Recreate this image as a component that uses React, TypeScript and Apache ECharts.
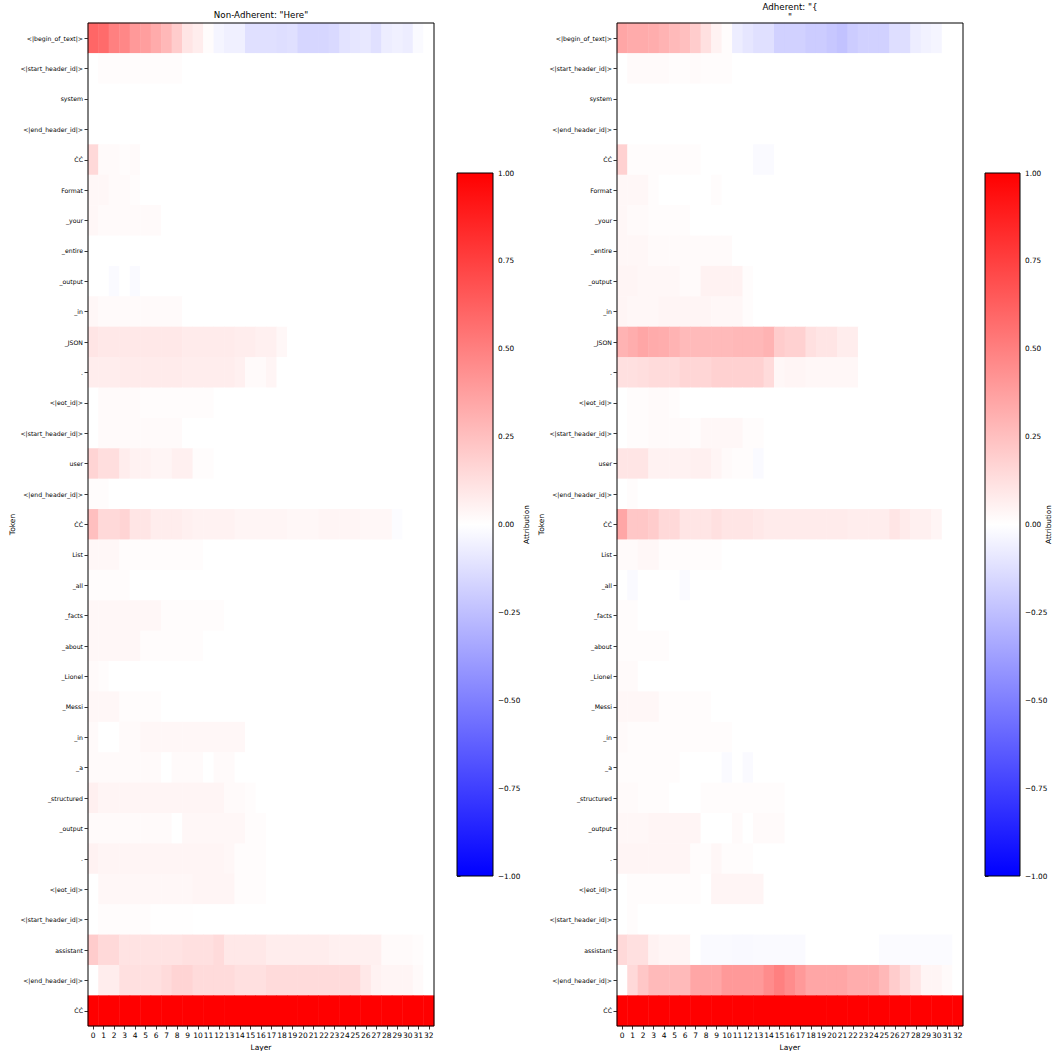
import { useEffect, useRef } from "react";
import * as echarts from "echarts";

const tokens = [
  "<|begin_of_text|>", "<|start_header_id|>", "system", "<|end_header_id|>", "ĊĊ",
  "Format", "_your", "_entire", "_output", "_in", "_JSON", ".", "<|eot_id|>",
  "<|start_header_id|>", "user", "<|end_header_id|>", "ĊĊ", "List", "_all", "_facts",
  "_about", "_Lionel", "_Messi", "_in", "_a", "_structured", "_output", ".",
  "<|eot_id|>", "<|start_header_id|>", "assistant", "<|end_header_id|>", "ĊĊ",
];

const layers = [
  "0", "1", "2", "3", "4", "5", "6", "7", "8", "9", "10", "11", "12", "13", "14", "15", "16",
  "17", "18", "19", "20", "21", "22", "23", "24", "25", "26", "27", "28", "29", "30", "31", "32",
];

const titleLeft = 'Non-Adherent: "Here"';
const titleRight = 'Adherent: "{\n"';

// Rows = tokens, columns = layers 0..32
const nonAdherent = [
  [0.6,0.58,0.5,0.47,0.4,0.38,0.33,0.28,0.2,0.1,0.07, 0.01,-0.04,-0.06,-0.06,-0.12,-0.12,-0.12,-0.13,-0.12,-0.16,-0.16, -0.16,-0.15,-0.11,-0.1,-0.09,-0.12,-0.07,-0.06,-0.07,-0.02,0],
  [0,0.01,0.01,0.01,0.01,0.01,0.01,0.01,0.01,0,0, 0,0,0,0,0,0,0,0,0,0,0, 0,0,0,0,0,0,0,0,0,0,0],
  [0,0,0,0,0,0,0,0,0,0,0, 0,0,0,0,0,0,0,0,0,0,0, 0,0,0,0,0,0,0,0,0,0,0],
  [0,0,0,0,0,0,0,0,0,0,0, 0,0,0,0,0,0,0,0,0,0,0, 0,0,0,0,0,0,0,0,0,0,0],
  [0.15,0.02,0.02,0.01,0.02,0,0,0,0,0,0, 0,0,0,0,0,0,0,0,0,0,0, 0,0,0,0,0,0,0,0,0,0,0],
  [0.03,0.03,0.02,0.02,0.01,0,0,0,0,0,0, 0,0,0,0,0,0,0,0,0,0,0, 0,0,0,0,0,0,0,0,0,0,0],
  [0.03,0.02,0.02,0.02,0.02,0.02,0.02,0,0,0,0, 0,0,0,0,0,0,0,0,0,0,0, 0,0,0,0,0,0,0,0,0,0,0],
  [0,0,0,0,0,0,0,0,0,0,0, 0,0,0,0,0,0,0,0,0,0,0, 0,0,0,0,0,0,0,0,0,0,0],
  [0,0,-0.02,0,-0.02,0,0,0,0,0,0, 0,0,0,0,0,0,0,0,0,0,0, 0,0,0,0,0,0,0,0,0,0,0],
  [0.03,0.02,0.02,0.02,0.02,0.02,0.02,0.02,0.02,0,0, 0,0,0,0,0,0,0,0,0,0,0, 0,0,0,0,0,0,0,0,0,0,0],
  [0.1,0.09,0.09,0.09,0.09,0.09,0.09,0.09,0.09,0.08,0.08, 0.08,0.08,0.08,0.07,0.07,0.06,0.06,0.03,0,0,0, 0,0,0,0,0,0,0,0,0,0,0],
  [0.07,0.07,0.07,0.08,0.08,0.08,0.08,0.08,0.08,0.07,0.07, 0.07,0.07,0.07,0.06,0.02,0.02,0.04,0,0,0,0, 0,0,0,0,0,0,0,0,0,0,0],
  [0,0.02,0.02,0.02,0.02,0.01,0.01,0.01,0.01,0.01,0.01, 0.01,0,0,0,0,0,0,0,0,0,0, 0,0,0,0,0,0,0,0,0,0,0],
  [0,0.02,0.02,0.02,0.02,0.02,0.02,0.02,0.02,0,0, 0,0,0,0,0,0,0,0,0,0,0, 0,0,0,0,0,0,0,0,0,0,0],
  [0.17,0.13,0.13,0.07,0.05,0.05,0.04,0.04,0.06,0.06,0.01, 0.01,0,0,0,0,0,0,0,0,0,0, 0,0,0,0,0,0,0,0,0,0,0],
  [0.01,0.01,0,0,0,0,0,0,0,0,0, 0,0,0,0,0,0,0,0,0,0,0, 0,0,0,0,0,0,0,0,0,0,0],
  [0.25,0.15,0.15,0.17,0.1,0.1,0.07,0.07,0.07,0.06,0.05, 0.05,0.05,0.05,0.04,0.04,0.04,0.04,0.04,0.03,0.03,0.03, 0.04,0.04,0.04,0.04,0.03,0.03,0.03,-0.01,0,0,0],
  [0.03,0.03,0.03,0.01,0.01,0.01,0.01,0.01,0.01,0.01,0.01, 0,0,0,0,0,0,0,0,0,0,0, 0,0,0,0,0,0,0,0,0,0,0],
  [0.01,0.01,0.01,0.01,0,0,0,0,0,0,0, 0,0,0,0,0,0,0,0,0,0,0, 0,0,0,0,0,0,0,0,0,0,0],
  [0.03,0.03,0.03,0.03,0.03,0.03,0.03,0.01,0.01,0.01,0.01, 0.01,0.01,0,0,0,0,0,0,0,0,0, 0,0,0,0,0,0,0,0,0,0,0],
  [0.03,0.03,0.03,0.03,0.03,0.01,0.01,0.01,0.01,0.01,0.01, 0,0,0,0,0,0,0,0,0,0,0, 0,0,0,0,0,0,0,0,0,0,0],
  [0.02,0.01,0,0,0,0,0,0,0,0,0, 0,0,0,0,0,0,0,0,0,0,0, 0,0,0,0,0,0,0,0,0,0,0],
  [0.03,0.03,0.03,0.01,0.01,0.01,0.01,0,0,0,0, 0,0,0,0,0,0,0,0,0,0,0, 0,0,0,0,0,0,0,0,0,0,0],
  [0.02,0,0,0.02,0.02,0.03,0.03,0.03,0.03,0.03,0.03, 0.03,0.03,0.03,0.03,0,0,0,0,0,0,0, 0,0,0,0,0,0,0,0,0,0,0],
  [0.02,0.02,0.02,0.02,0.02,0.02,0.02,0,0.02,0.02,0.02, 0,0.02,0.02,0,0,0,0,0,0,0,0, 0,0,0,0,0,0,0,0,0,0,0],
  [0.06,0.04,0.04,0.04,0.04,0.04,0.04,0.04,0.04,0.04,0.04, 0.04,0.04,0.02,0.02,0.01,0,0,0,0,0,0, 0,0,0,0,0,0,0,0,0,0,0],
  [0.02,0.02,0.02,0.02,0.02,0.02,0.02,0.02,0,0.03,0.03, 0.03,0.03,0.03,0.03,0.01,0.01,0,0,0,0,0, 0,0,0,0,0,0,0,0,0,0,0],
  [0.05,0.04,0.04,0.04,0.04,0.04,0.04,0.04,0.04,0.04,0.04, 0.04,0.04,0.03,0.01,0.01,0.01,0,0,0,0,0, 0,0,0,0,0,0,0,0,0,0,0],
  [0,0.03,0.03,0.03,0.03,0.03,0.03,0.03,0.03,0.03,0.04, 0.04,0.04,0.04,0.01,0.01,0.01,0,0,0,0,0, 0,0,0,0,0,0,0,0,0,0,0],
  [0,0.01,0.01,0.01,0.01,0.01,0.005,0.005,0.005,0.005,0, 0,0,0,0,0,0,0,0,0,0,0, 0,0,0,0,0,0,0,0,0,0,0],
  [0.2,0.15,0.15,0.11,0.11,0.11,0.11,0.11,0.11,0.12,0.12, 0.12,0.14,0.09,0.09,0.09,0.09,0.07,0.07,0.07,0.07,0.07, 0.07,0.06,0.06,0.06,0.06,0.06,0.02,0.02,0.02,0.01,0],
  [0,0.07,0.07,0.12,0.12,0.12,0.12,0.14,0.17,0.17,0.14, 0.14,0.14,0.14,0.12,0.12,0.12,0.14,0.14,0.14,0.14,0.14, 0.14,0.14,0.14,0.14,0.09,0.05,0.04,0.04,0.04,0.02,0],
  [1,1,1,1,1,1,1,1,1,1,1, 1,1,1,1,1,1,1,1,1,1,1, 1,1,1,1,1,1,1,1,1,1,1],
];

const adherent = [
  [0.35,0.33,0.33,0.32,0.3,0.27,0.25,0.2,0.12,0.05,0.01, -0.07,-0.1,-0.12,-0.12,-0.18,-0.18,-0.18,-0.2,-0.2,-0.22,-0.24, -0.2,-0.18,-0.18,-0.18,-0.13,-0.13,-0.07,-0.05,-0.04,0,0],
  [0,0.02,0.02,0.02,0.02,0.01,0.01,0.02,0.01,0.01,0.01, 0,0,0,0,0,0,0,0,0,0,0, 0,0,0,0,0,0,0,0,0,0,0],
  [0,0,0,0,0,0,0,0,0,0,0, 0,0,0,0,0,0,0,0,0,0,0, 0,0,0,0,0,0,0,0,0,0,0],
  [0,0,0,0,0,0,0,0,0,0,0, 0,0,0,0,0,0,0,0,0,0,0, 0,0,0,0,0,0,0,0,0,0,0],
  [0.18,0.01,0.01,0.01,0.01,0.01,0.01,0.01,0,0,0, 0,0,-0.02,-0.02,0,0,0,0,0,0,0, 0,0,0,0,0,0,0,0,0,0,0],
  [0.03,0.03,0.03,0.01,0,0,0,0,0,0.01,0, 0,0,0,0,0,0,0,0,0,0,0, 0,0,0,0,0,0,0,0,0,0,0],
  [0.03,0.02,0.02,0.01,0.01,0.01,0.01,0,0,0,0, 0,0,0,0,0,0,0,0,0,0,0, 0,0,0,0,0,0,0,0,0,0,0],
  [0.03,0.03,0.03,0.02,0.02,0.02,0.02,0.02,0.02,0.02,0.02, 0,0,0,0,0,0,0,0,0,0,0, 0,0,0,0,0,0,0,0,0,0,0],
  [0.04,0.04,0.03,0.03,0.03,0.03,0.02,0.02,0.05,0.05,0.05, 0.05,0.01,0,0,0,0,0,0,0,0,0, 0,0,0,0,0,0,0,0,0,0,0],
  [0.04,0.03,0.03,0.03,0.04,0.04,0.04,0.04,0.04,0.03,0.03, 0.03,0.01,0,0,0,0,0,0,0,0,0, 0,0,0,0,0,0,0,0,0,0,0],
  [0.3,0.32,0.35,0.33,0.32,0.3,0.27,0.27,0.27,0.27,0.27, 0.28,0.28,0.28,0.3,0.2,0.18,0.18,0.12,0.1,0.1,0.07, 0.07,0,0,0,0,0,0,0,0,0,0],
  [0.12,0.12,0.13,0.14,0.14,0.14,0.16,0.16,0.16,0.18,0.18, 0.18,0.18,0.18,0.14,0.03,0.04,0.04,0.03,0.03,0.03,0.03, 0.03,0,0,0,0,0,0,0,0,0,0],
  [0,0.01,0.01,0.02,0.02,0.01,0,0,0,0,0, 0,0,0,0,0,0,0,0,0,0,0, 0,0,0,0,0,0,0,0,0,0,0],
  [0,0.01,0.01,0.02,0.02,0.02,0.02,0.01,0.03,0.03,0.03, 0.03,0.01,0.01,0,0,0,0,0,0,0,0, 0,0,0,0,0,0,0,0,0,0,0],
  [0.1,0.1,0.1,0.05,0.05,0.05,0.05,0.06,0.06,0.04,0.02, 0.01,0.01,-0.02,0,0,0,0,0,0,0,0, 0,0,0,0,0,0,0,0,0,0,0],
  [0,0.01,0,0,0,0,0,0,0,0,0, 0,0,0,0,0,0,0,0,0,0,0, 0,0,0,0,0,0,0,0,0,0,0],
  [0.35,0.22,0.22,0.2,0.15,0.15,0.1,0.1,0.1,0.12,0.1, 0.1,0.1,0.09,0.08,0.08,0.08,0.08,0.08,0.08,0.08,0.08, 0.07,0.07,0.07,0.07,0.1,0.08,0.06,0.06,0.04,0,0],
  [0.02,0.02,0.03,0.03,0.01,0.01,0.01,0.01,0.01,0.01,0, 0,0,0,0,0,0,0,0,0,0,0, 0,0,0,0,0,0,0,0,0,0,0],
  [0,-0.02,0,0,0,0,-0.02,0,0,0,0, 0,0,0,0,0,0,0,0,0,0,0, 0,0,0,0,0,0,0,0,0,0,0],
  [0.01,0.01,0,0,0,0,0,0,0,0,0, 0,0,0,0,0,0,0,0,0,0,0, 0,0,0,0,0,0,0,0,0,0,0],
  [0.01,0.01,0.01,0.01,0.01,0,0,0,0,0,0, 0,0,0,0,0,0,0,0,0,0,0, 0,0,0,0,0,0,0,0,0,0,0],
  [0.02,0.02,0,0,0,0,0,0,0,0,0, 0,0,0,0,0,0,0,0,0,0,0, 0,0,0,0,0,0,0,0,0,0,0],
  [0.03,0.03,0.03,0.03,0.01,0.01,0.01,0.01,0.01,0,0, 0,0,0,0,0,0,0,0,0,0,0, 0,0,0,0,0,0,0,0,0,0,0],
  [0.02,0.01,0.01,0.01,0.01,0.01,0.01,0.01,0.01,0.01,0.01, 0,0,0,0,0,0,0,0,0,0,0, 0,0,0,0,0,0,0,0,0,0,0],
  [0.01,0.01,0.01,0.01,0.01,0.01,0,0,0,0,-0.02, 0,-0.02,0,0,0,0,0,0,0,0,0, 0,0,0,0,0,0,0,0,0,0,0],
  [0.02,0.02,0.01,0.01,0.01,0,0,0,0.01,0.01,0.01, 0.01,0.01,0.01,0.01,0.01,0,0,0,0,0,0, 0,0,0,0,0,0,0,0,0,0,0],
  [0.03,0.03,0.03,0.04,0.04,0.04,0.04,0.04,0,0,0, 0.02,0,0.02,0.02,0.02,0,0,0,0,0,0, 0,0,0,0,0,0,0,0,0,0,0],
  [0.04,0.04,0.04,0.04,0.04,0.04,0.04,0.01,0.01,0.03,0.01, 0.01,0.01,0,0,0,0,0,0,0,0,0, 0,0,0,0,0,0,0,0,0,0,0],
  [0,0.01,0.01,0.01,0.01,0.01,0.01,0.01,0,0.04,0.04, 0.04,0.04,0.04,0,0,0,0,0,0,0,0, 0,0,0,0,0,0,0,0,0,0,0],
  [0,0.01,0,0,0,0,0,0,0,0,0, 0,0,0,0,0,0,0,0,0,0,0, 0,0,0,0,0,0,0,0,0,0,0],
  [0.15,0.12,0.12,0.05,0.04,0.04,0.04,0,-0.02,-0.02,-0.02, -0.025,-0.025,-0.02,-0.02,-0.02,-0.02,-0.02,0,0,0,0, 0,0,0,-0.015,-0.015,-0.015,-0.015,-0.015,-0.015,-0.015,0],
  [0,0.15,0.22,0.27,0.27,0.27,0.27,0.35,0.35,0.35,0.4, 0.4,0.4,0.4,0.45,0.5,0.45,0.4,0.35,0.35,0.35,0.35, 0.32,0.32,0.32,0.28,0.2,0.15,0.1,0.04,0.04,0.02,0],
  [1,1,1,1,1,1,1,1,1,1,1, 1,1,1,1,1,1,1,1,1,1,1, 1,1,1,1,1,1,1,1,1,1,1],
];

const FONT = "DejaVu Sans";
const BLACK = "#000000";

const toCells = (m: number[][]) =>
  m.flatMap((row, y) => row.map((v, x) => [x, y, v]));

const fmtTick = (v: number) => v.toFixed(2).replace("-", "\u2212");

export default function App() {
  const ref = useRef<HTMLDivElement>(null);

  useEffect(() => {
    if (!ref.current) return;
    const chart = echarts.init(ref.current, null, { renderer: "svg" });

    const gradient = new echarts.graphic.LinearGradient(0, 0, 0, 1, [
      { offset: 0, color: "#ff0000" },
      { offset: 0.5, color: "#ffffff" },
      { offset: 1, color: "#0000ff" },
    ]);

    const hmGrid = (left: number) => ({
      left, top: 23, width: 346, height: 1003,
      show: true, backgroundColor: "transparent",
      borderColor: BLACK, borderWidth: 1, z: 10,
      containLabel: false, outerBoundsMode: "none",
    });
    const cbGrid = (left: number, width: number) => ({
      left, top: 173, width, height: 703,
      show: true, backgroundColor: gradient,
      borderColor: BLACK, borderWidth: 1, z: 10,
      containLabel: false, outerBoundsMode: "none",
    });

    const txt = { color: BLACK, fontFamily: FONT };

    const hmX = (gridIndex: number) => ({
      gridIndex, type: "category", data: layers,
      axisLine: { show: false },
      axisTick: { show: true, alignWithLabel: true, length: 3.5, lineStyle: { color: BLACK, width: 0.8 } },
      axisLabel: { interval: 0, fontSize: 7.5, margin: 5, ...txt },
      splitLine: { show: false },
      name: "Layer", nameLocation: "middle", nameGap: 14,
      nameTextStyle: { fontSize: 7.5, ...txt },
    });
    const hmY = (gridIndex: number) => ({
      gridIndex, type: "category", data: tokens, inverse: true,
      axisLine: { show: false },
      axisTick: { show: true, alignWithLabel: true, length: 3.5, lineStyle: { color: BLACK, width: 0.8 } },
      axisLabel: { interval: 0, fontSize: 6.2, margin: 5, ...txt },
      splitLine: { show: false },
      name: "Token", nameLocation: "middle", nameGap: 66, nameRotate: 90,
      nameTextStyle: { fontSize: 7.5, ...txt },
    });
    const cbX = (gridIndex: number) => ({ gridIndex, type: "value", show: false });
    const cbY = (gridIndex: number, nameGap: number) => ({
      gridIndex, type: "value", min: -1, max: 1, interval: 0.25, position: "right",
      axisLine: { show: false },
      axisTick: { show: true, length: 3.5, lineStyle: { color: BLACK, width: 0.8 } },
      axisLabel: { fontSize: 7.3, margin: 5, formatter: fmtTick, ...txt },
      splitLine: { show: false },
      name: "Attribution", nameLocation: "middle", nameGap, nameRotate: 90,
      nameMoveOverlap: false,
      nameTextStyle: { fontSize: 7.3, ...txt },
    });

    chart.setOption({
      animation: false,
      backgroundColor: "#ffffff",
      grid: [hmGrid(88), hmGrid(617), cbGrid(457, 36), cbGrid(985, 35)],
      xAxis: [hmX(0), hmX(1), cbX(2), cbX(3)],
      yAxis: [hmY(0), hmY(1), cbY(2, 30), cbY(3, 25)],
      visualMap: [{
        type: "continuous", show: false, min: -1, max: 1, dimension: 2,
        seriesIndex: [0, 1],
        inRange: { color: ["#0000ff", "#ffffff", "#ff0000"] },
      }],
      series: [
        {
          name: "Non-Adherent", type: "heatmap", xAxisIndex: 0, yAxisIndex: 0,
          data: toCells(nonAdherent), emphasis: { disabled: true },
          itemStyle: { borderWidth: 0 },
        },
        {
          name: "Adherent", type: "heatmap", xAxisIndex: 1, yAxisIndex: 1,
          data: toCells(adherent), emphasis: { disabled: true },
          itemStyle: { borderWidth: 0 },
        },
      ],
      graphic: [
        {
          type: "text", x: 261, y: 15,
          style: {
            text: titleLeft, fill: BLACK, fontSize: 8.7, fontFamily: FONT,
            align: "center", verticalAlign: "middle",
            textAlign: "center", textVerticalAlign: "middle",
          },
        },
        {
          type: "text", x: 790, y: 12,
          style: {
            text: titleRight, fill: BLACK, fontSize: 8.7, fontFamily: FONT, lineHeight: 10,
            align: "center", verticalAlign: "middle",
            textAlign: "center", textVerticalAlign: "middle",
          },
        },
      ],
    });

    return () => chart.dispose();
  }, []);

  return (
    <div
      ref={ref}
      style={{ position: "absolute", left: 0, top: 0, width: 1057, height: 1051 }}
    />
  );
}
